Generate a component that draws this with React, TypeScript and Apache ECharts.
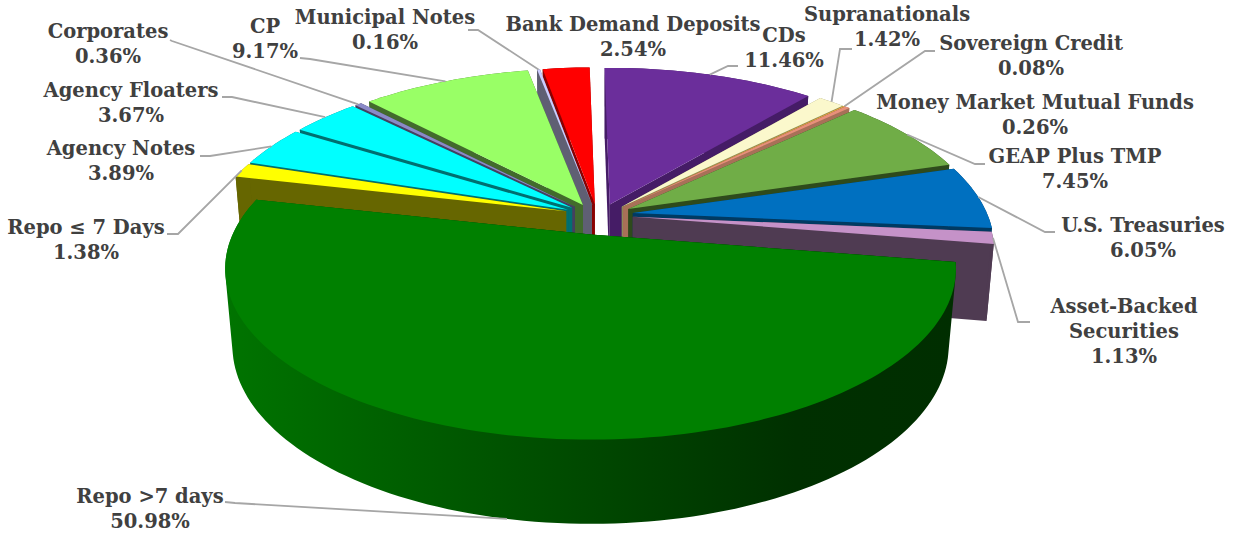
import React, { useEffect, useRef } from "react";
import * as echarts from "echarts";

// ---------- data (clockwise from 12 o'clock) ----------
const categories = ["CDs", "Supranationals", "Sovereign Credit", "Money Market Mutual Funds", "GEAP Plus TMP", "U.S. Treasuries", "Asset-Backed\nSecurities", "Repo >7 days", "Repo ≤ 7 Days", "Agency Notes", "Agency Floaters", "Corporates", "CP", "Municipal Notes", "Bank Demand Deposits"];
const values = [11.46, 1.42, 0.08, 0.26, 7.45, 6.05, 1.13, 50.98, 1.38, 3.89, 3.67, 0.36, 9.17, 0.16, 2.54];
const topColors = ["#6B2E9B", "#FBF8CC", "#F0B040", "#E8907A", "#70AD47", "#0070C0", "#C592C8", "#008000", "#FFFF00", "#00FFFF", "#00FFFF", "#8A8AC8", "#99FF66", "#CCCCFF", "#FF0000"];
const wallColors = ["#451C66", "#8E8C5A", "#8A6A30", "#A87058", "#2E4A1C", "#003A62", "#4F3B52", "#004A00", "#666600", "#006F70", "#006F70", "#45405F", "#426B2C", "#5F5F73", "#8A0000"];
// side wall of the big slice, left to right
const sideStops = [
  { offset: 0, color: "#007400" },
  { offset: 0.27, color: "#005C00" },
  { offset: 0.78, color: "#003000" },
  { offset: 1, color: "#002E00" },
];

// ---------- label layout ----------
const labelCentres = [[784, 48], [887, 27], [1031, 56], [1035, 115], [1075, 169], [1143, 238], [1124, 331], [150, 509], [86, 240], [121, 161], [131, 103], [108, 44], [265, 39], [385, 30], [633, 37]];
// leader start and knee points, null where the reference shows no leader
const leaderStarts: (number[][] | null)[] = [
  [[738, 66], [728, 66]],
  [[852, 49], [840, 49]],
  [[935, 51], [925, 51]],
  null,
  [[985, 164], [975, 164]],
  [[1055, 232], [1045, 232]],
  [[1030, 322], [1018, 322]],
  [[225, 502], [235, 503]],
  [[167, 234], [178, 234]],
  [[200, 156], [210, 156]],
  [[222, 97], [232, 97]],
  [[170, 40], [172, 41]],
  [[300, 58], [310, 59]],
  [[468, 30], [478, 30]],
  null,
];

// ---------- projection ----------
const CX = 598, CY = 214, A = 354, A_BIGGEST = 358, B = 164, K = 0.2;
const EX_RIGHT = 35, EX_LEFT = 33, EX_BIGGEST = 39, EY_BACK = 10, EY_FRONT = 21;
const DEPTH = 76, SX = 0.98, SY = 1.04;
const START = -1;
const total = values.reduce((s, v) => s + v, 0);
const biggest = values.indexOf(Math.max(...values));
const rad = (d: number) => (d * Math.PI) / 180;

const spans: number[][] = [];
{
  let acc = 0;
  values.forEach((v) => {
    const a0 = START + (acc / total) * 360;
    acc += v;
    spans.push([a0, START + (acc / total) * 360]);
  });
}
const mid = (i: number) => (spans[i][0] + spans[i][1]) / 2;
const origin = (i: number) => {
  const m = rad(mid(i));
  const c = Math.cos(m);
  const s = Math.sin(m);
  const ex = i === biggest ? EX_BIGGEST : s < 0 ? EX_LEFT : EX_RIGHT;
  return [CX + ex * s, CY - c * (c > 0 ? EY_BACK : EY_FRONT)];
};
function project(i: number, deg: number, r: number, bottom: boolean) {
  const [ox, oy] = origin(i);
  const a = i === biggest ? A_BIGGEST : A;
  const u = r * Math.sin(rad(deg));
  const v = -r * Math.cos(rad(deg));
  const w = 1 / (1 - K * v);
  return bottom
    ? [ox + a * u * w * SX, oy + DEPTH + B * v * w * SY]
    : [ox + a * u * w, oy + B * v * w];
}
function arc(i: number, bottom: boolean) {
  const [a0, a1] = spans[i];
  const n = Math.max(2, Math.ceil((a1 - a0) / 1.5));
  const pts: number[][] = [];
  for (let s = 0; s <= n; s++) pts.push(project(i, a0 + ((a1 - a0) * s) / n, 1, bottom));
  return pts;
}
// outline of the extruded rim: the top and bottom arcs joined by their tangents
function hull(points: number[][]) {
  const p = points.slice().sort((a, b) => a[0] - b[0] || a[1] - b[1]);
  const cross = (o: number[], a: number[], b: number[]) => (a[0] - o[0]) * (b[1] - o[1]) - (a[1] - o[1]) * (b[0] - o[0]);
  const half = (list: number[][]) => {
    const out: number[][] = [];
    list.forEach((q) => {
      while (out.length > 1 && cross(out[out.length - 2], out[out.length - 1], q) <= 0) out.pop();
      out.push(q);
    });
    out.pop();
    return out;
  };
  return [...half(p), ...half(p.slice().reverse())];
}
// the hull's straight chord between the two corners runs past the apex; route it through the apex
function throughApex(outline: number[][], a: number[], b: number[], apex: number[]) {
  const out: number[][] = [];
  outline.forEach((p, k) => {
    const q = outline[(k + 1) % outline.length];
    out.push(p);
    if ((p === a && q === b) || (p === b && q === a)) out.push(apex);
  });
  return out;
}

const drawOrder = values.map((_, i) => i).sort((p, q) => -Math.cos(rad(mid(p))) - -Math.cos(rad(mid(q))));

function renderItem(_: unknown, api: any) {
  const i = api.value(1);
  const top = arc(i, false);
  const bot = arc(i, true);
  const apexT = project(i, 0, 0, false);
  const apexB = project(i, 0, 0, true);
  const wall = wallColors[i];
  const side = i === biggest ? new echarts.graphic.LinearGradient(0, 0, 1, 0, sideStops) : wall;
  const poly = (points: number[][], fill: unknown) => ({
    type: "polygon",
    shape: { points },
    style: { fill, stroke: null },
    silent: true,
  });
  return {
    type: "group",
    children: [
      poly([apexT, top[0], bot[0], apexB], wall),
      poly([apexT, top[top.length - 1], bot[bot.length - 1], apexB], wall),
      poly(throughApex(hull([...top, ...bot]), top[0], top[top.length - 1], apexT), side),
      poly([apexT, ...top], topColors[i]),
    ],
  };
}

const labelFont = "bold 19.5px 'DejaVu Serif'";
const labels = categories.map((name, i) => ({
  type: "text",
  x: labelCentres[i][0],
  y: labelCentres[i][1],
  z: 20,
  silent: true,
  style: {
    text: `${name}\n${values[i].toFixed(2)}%`,
    font: labelFont,
    fill: "#404040",
    align: "center",
    verticalAlign: "middle",
    lineHeight: 25,
  },
}));
const leaders = leaderStarts.flatMap((s, i) => {
  if (!s) return [];
  const end = project(i, mid(i), 1, i === biggest);
  return [{
    type: "polyline",
    z: 10,
    silent: true,
    shape: { points: [...s, end] },
    style: { stroke: "#A6A6A6", lineWidth: 1.8, fill: null },
  }];
});

export default function App() {
  const ref = useRef<HTMLDivElement>(null);
  useEffect(() => {
    const chart = echarts.init(ref.current!, null, { renderer: "svg" });
    chart.setOption({
      animation: false,
      backgroundColor: "#FFFFFF",
      series: [{
        type: "custom",
        coordinateSystem: "none",
        silent: true,
        renderItem,
        data: drawOrder.map((i) => ({ name: categories[i], value: [values[i], i] })),
      }],
      graphic: { elements: [...leaders, ...labels] },
    });
    return () => chart.dispose();
  }, []);
  return <div ref={ref} style={{ position: "absolute", left: 0, top: 0, width: 1238, height: 535 }} />;
}
